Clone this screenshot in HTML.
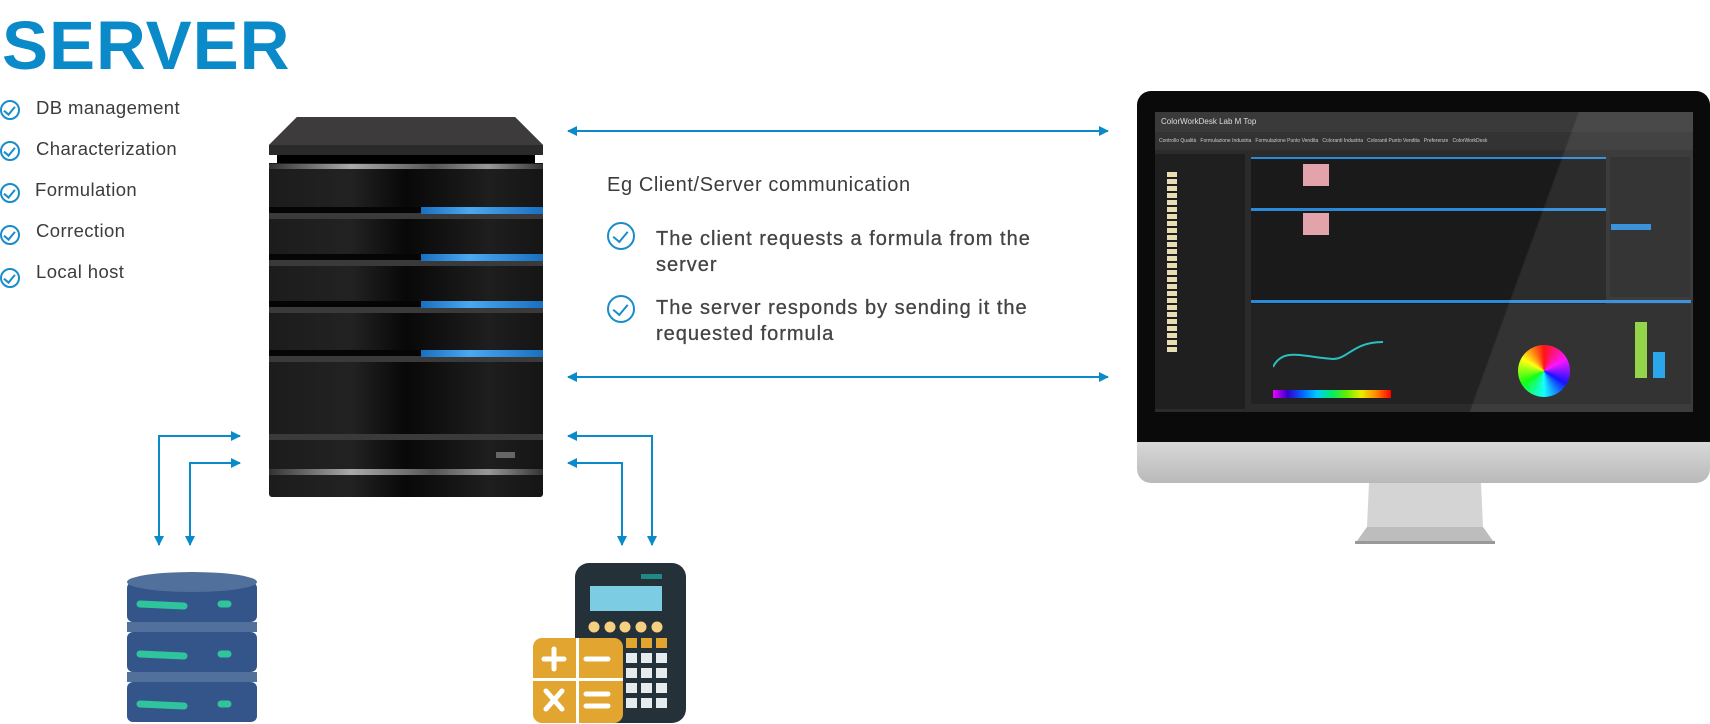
<!DOCTYPE html>
<html><head><meta charset="utf-8"><style>
html,body{margin:0;padding:0;background:#fff;}
body{width:1710px;height:724px;position:relative;overflow:hidden;font-family:"Liberation Sans",sans-serif;color:#3c3c3c;}
.a{position:absolute;}
.t{position:absolute;white-space:nowrap;}
.li{font-size:18.5px;letter-spacing:0.4px;}
.ck{position:absolute;width:16px;height:16px;border:2px solid #1a8ccc;border-radius:50%;}
.ck:after{content:"";position:absolute;left:4px;top:2px;width:5px;height:9px;border-right:2px solid #1a8ccc;border-bottom:2px solid #1a8ccc;transform:rotate(40deg);}
.ck2{width:24px;height:24px;}
.ck2:after{left:7px;top:4px;width:7px;height:12px;}
.stripe{position:absolute;left:0;width:274px;height:6px;background:#050505;}
.stripe2{position:absolute;left:0;width:274px;height:6px;background:#3a3a3a;}
.blue{position:absolute;left:152px;width:122px;height:7px;background:linear-gradient(90deg,#1a6fc0,#4aa8f0 40%,#1a6fc0);}
.lit{position:absolute;left:0;width:274px;height:6px;background:linear-gradient(90deg,#333,#aaa 30%,#555 60%,#999 80%,#333);}
.bt{font-size:20px;letter-spacing:1px;line-height:26px;color:#444;-webkit-text-stroke:0.3px #444;}
</style></head><body>

<div class="t" style="left:2px;top:6px;font-size:69px;font-weight:bold;color:#0a8ac8;letter-spacing:1px;">SERVER</div>

<div class="ck" style="left:0;top:100px"></div><div class="t li" style="left:36px;top:97px">DB management</div>
<div class="ck" style="left:0;top:141px"></div><div class="t li" style="left:36px;top:138px">Characterization</div>
<div class="ck" style="left:0;top:183px"></div><div class="t li" style="left:35px;top:179px">Formulation</div>
<div class="ck" style="left:0;top:225px"></div><div class="t li" style="left:36px;top:220px">Correction</div>
<div class="ck" style="left:0;top:268px"></div><div class="t li" style="left:36px;top:261px">Local host</div>

<!-- server -->
<div class="a" style="left:269px;top:117px;width:274px;height:380px;">
  <svg class="a" style="left:0;top:0" width="274" height="40"><polygon points="28,0 246,0 274,28 274,38 0,38 0,28" fill="#2a2a2a"/><polygon points="28,0 246,0 274,28 0,28" fill="#3d3b3b"/></svg>
  <div class="a" style="left:8px;top:38px;width:258px;height:9px;background:#000"></div>
  <div class="a" style="left:0;top:46px;width:274px;height:334px;background:linear-gradient(90deg,#1c1c1c,#222 30%,#080808 50%,#1e1e1e 80%,#151515);border-radius:0 0 3px 3px"></div>
  <div class="lit" style="top:47px;height:5px"></div>
  <div class="stripe" style="top:90px"></div><div class="stripe2" style="top:96px"></div><div class="blue" style="top:90px"></div>
  <div class="stripe" style="top:137px"></div><div class="stripe2" style="top:143px"></div><div class="blue" style="top:137px"></div>
  <div class="stripe" style="top:184px"></div><div class="stripe2" style="top:190px"></div><div class="blue" style="top:184px"></div>
  <div class="stripe" style="top:233px"></div><div class="stripe2" style="top:239px"></div><div class="blue" style="top:233px"></div>
  <div class="stripe2" style="top:317px"></div>
  <div class="a" style="left:227px;top:335px;width:19px;height:6px;background:#666"></div>
  <div class="lit" style="top:352px"></div>
</div>

<!-- arrows -->
<svg class="a" style="left:0;top:0" width="1710" height="724">
<defs><marker id="m" viewBox="0 0 10 10" refX="9" refY="5" markerWidth="10" markerHeight="10" markerUnits="userSpaceOnUse" orient="auto-start-reverse"><path d="M0,0 L10,5 L0,10 z" fill="#0a8ac8"/></marker></defs>
<g stroke="#0a8ac8" stroke-width="2" fill="none">
<line x1="568" y1="131" x2="1108" y2="131" marker-start="url(#m)" marker-end="url(#m)"/>
<line x1="568" y1="377" x2="1108" y2="377" marker-start="url(#m)" marker-end="url(#m)"/>
<polyline points="240,436 159,436 159,545" marker-start="url(#m)" marker-end="url(#m)"/>
<polyline points="240,463 190,463 190,545" marker-start="url(#m)" marker-end="url(#m)"/>
<polyline points="568,436 652,436 652,545" marker-start="url(#m)" marker-end="url(#m)"/>
<polyline points="568,463 622,463 622,545" marker-start="url(#m)" marker-end="url(#m)"/>
</g>
</svg>

<div class="t" style="left:607px;top:174px;font-size:20px;letter-spacing:0.6px">Eg Client/Server communication</div>
<div class="ck ck2" style="left:607px;top:222px"></div>
<div class="t bt" style="left:656px;top:226px">The client requests a formula from the<br>server</div>
<div class="ck ck2" style="left:607px;top:295px"></div>
<div class="t bt" style="left:656px;top:295px">The server responds by sending it the<br>requested formula</div>

<!-- database -->
<svg class="a" style="left:126px;top:570px" width="132" height="154">
<g fill="#34558a">
<rect x="1" y="12" width="130" height="40" rx="6"/><rect x="1" y="62" width="130" height="40" rx="6"/><rect x="1" y="112" width="130" height="40" rx="6"/>
</g>
<ellipse cx="66" cy="12" rx="65" ry="10" fill="#52709c"/>
<rect x="1" y="52" width="130" height="10" fill="#52709c"/>
<rect x="1" y="102" width="130" height="10" fill="#52709c"/>
<g stroke="#2fc49c" stroke-width="7" stroke-linecap="round">
<line x1="14" y1="34" x2="58" y2="36"/><line x1="95" y1="34" x2="102" y2="34"/>
<line x1="14" y1="84" x2="58" y2="86"/><line x1="95" y1="84" x2="102" y2="84"/>
<line x1="14" y1="134" x2="58" y2="136"/><line x1="95" y1="134" x2="102" y2="134"/>
</g>
</svg>

<!-- calculator -->
<svg class="a" style="left:530px;top:560px" width="160" height="164">
<rect x="45" y="3" width="111" height="160" rx="14" fill="#243139"/>
<rect x="111" y="14" width="21" height="5" fill="#1e8a86"/>
<rect x="60" y="26" width="72" height="25" fill="#7ccde4"/>
<g fill="#f6d07f"><circle cx="64" cy="67" r="5.5"/><circle cx="80" cy="67" r="5.5"/><circle cx="95" cy="67" r="5.5"/><circle cx="111" cy="67" r="5.5"/><circle cx="127" cy="67" r="5.5"/></g>
<g fill="#e2a630"><rect x="96" y="78" width="11" height="10"/><rect x="111" y="78" width="11" height="10"/><rect x="126" y="78" width="11" height="10"/></g>
<g fill="#e6ebee">
<rect x="96" y="93" width="11" height="10"/><rect x="111" y="93" width="11" height="10"/><rect x="126" y="93" width="11" height="10"/>
<rect x="96" y="108" width="11" height="10"/><rect x="111" y="108" width="11" height="10"/><rect x="126" y="108" width="11" height="10"/>
<rect x="96" y="123" width="11" height="10"/><rect x="111" y="123" width="11" height="10"/><rect x="126" y="123" width="11" height="10"/>
<rect x="96" y="138" width="11" height="10"/><rect x="111" y="138" width="11" height="10"/><rect x="126" y="138" width="11" height="10"/>
</g>
<rect x="3" y="78" width="90" height="85" rx="9" fill="#e2a630"/>
<rect x="3" y="118" width="90" height="3" fill="#fff"/><rect x="46" y="78" width="3" height="85" fill="#fff"/>
<g stroke="#fff" stroke-width="5" stroke-linecap="round"><line x1="14" y1="99" x2="34" y2="99"/><line x1="24" y1="89" x2="24" y2="109"/><line x1="56" y1="99" x2="78" y2="99"/>
<line x1="16" y1="131" x2="32" y2="149"/><line x1="32" y1="131" x2="16" y2="149"/><line x1="56" y1="134" x2="78" y2="134"/><line x1="56" y1="146" x2="78" y2="146"/></g>
</svg>

<!-- monitor -->
<div class="a" style="left:1137px;top:91px;width:573px;height:352px;background:#0a0a0a;border-radius:14px 14px 0 0"></div>
<div class="a" style="left:1137px;top:442px;width:573px;height:41px;background:linear-gradient(#d8d8d8,#b9b9b9);border-radius:0 0 14px 14px"></div>
<svg class="a" style="left:1355px;top:483px" width="140" height="62"><polygon points="14,0 126,0 128,44 138,58 2,58 12,44" fill="#d4d4d4"/><polygon points="12,44 128,44 138,58 2,58" fill="#bdbdbd"/><rect x="0" y="58" width="140" height="3" fill="#999"/></svg>
<div class="a" style="left:1155px;top:112px;width:538px;height:300px;background:#2b2b2b;overflow:hidden">
  <div class="a" style="left:0;top:0;width:538px;height:20px;background:#3a3a3a;color:#ddd;font-size:8px;padding:5px 6px;box-sizing:border-box">ColorWorkDesk Lab M Top</div>
  <div class="a" style="left:0;top:20px;width:538px;height:18px;background:#333;color:#ccc;font-size:5px;padding:6px 4px;box-sizing:border-box">Controllo Qualità &nbsp; Formulazione Industria &nbsp; Formulazione Punto Vendita &nbsp; Coloranti Industria &nbsp; Coloranti Punto Vendita &nbsp; Preferenze &nbsp; ColorWorkDesk</div>
  <div class="a" style="left:0;top:42px;width:90px;height:255px;background:#1f1f1f"></div>
  <div class="a" style="left:12px;top:60px;width:10px;height:180px;background:repeating-linear-gradient(#e9ddb4 0 5px,transparent 5px 7px)"></div>
  <div class="a" style="left:96px;top:45px;width:355px;height:185px;background:#1a1a1a;border-top:2px solid #2b8ad8"></div>
  <div class="a" style="left:96px;top:96px;width:355px;height:3px;background:#2b8ad8"></div>
  <div class="a" style="left:148px;top:52px;width:26px;height:22px;background:#e3a3ab"></div>
  <div class="a" style="left:148px;top:101px;width:26px;height:22px;background:#e3a3ab"></div>
  <div class="a" style="left:455px;top:45px;width:80px;height:140px;background:#242424"></div>
  <div class="a" style="left:456px;top:112px;width:40px;height:6px;background:#2b8ad8"></div>
  <div class="a" style="left:96px;top:188px;width:440px;height:3px;background:#2b8ad8"></div>
  <div class="a" style="left:96px;top:192px;width:440px;height:100px;background:#222"></div>
  <div class="a" style="left:118px;top:278px;width:118px;height:8px;background:linear-gradient(90deg,#e0f,#30c,#06f,#0cf,#0e6,#6e0,#ee0,#f80,#f00)"></div>
  <div class="a" style="left:363px;top:233px;width:52px;height:52px;border-radius:50%;background:conic-gradient(#f00,#f0f,#00f,#0ff,#0f0,#ff0,#f00)"></div>
  <div class="a" style="left:480px;top:210px;width:12px;height:56px;background:#8bd13c"></div>
  <div class="a" style="left:498px;top:240px;width:12px;height:26px;background:#1a9ee8"></div>
  <svg class="a" style="left:118px;top:225px" width="120" height="40"><path d="M0,30 C10,10 30,20 60,22 C75,22 80,5 110,5" stroke="#2ac0c0" stroke-width="2" fill="none"/></svg>
  <div class="a" style="left:300px;top:0;width:300px;height:300px;background:linear-gradient(110deg,transparent 0,transparent 30%,rgba(255,255,255,0.08) 30.5%,rgba(255,255,255,0.08) 100%)"></div>
</div>

</body></html>
